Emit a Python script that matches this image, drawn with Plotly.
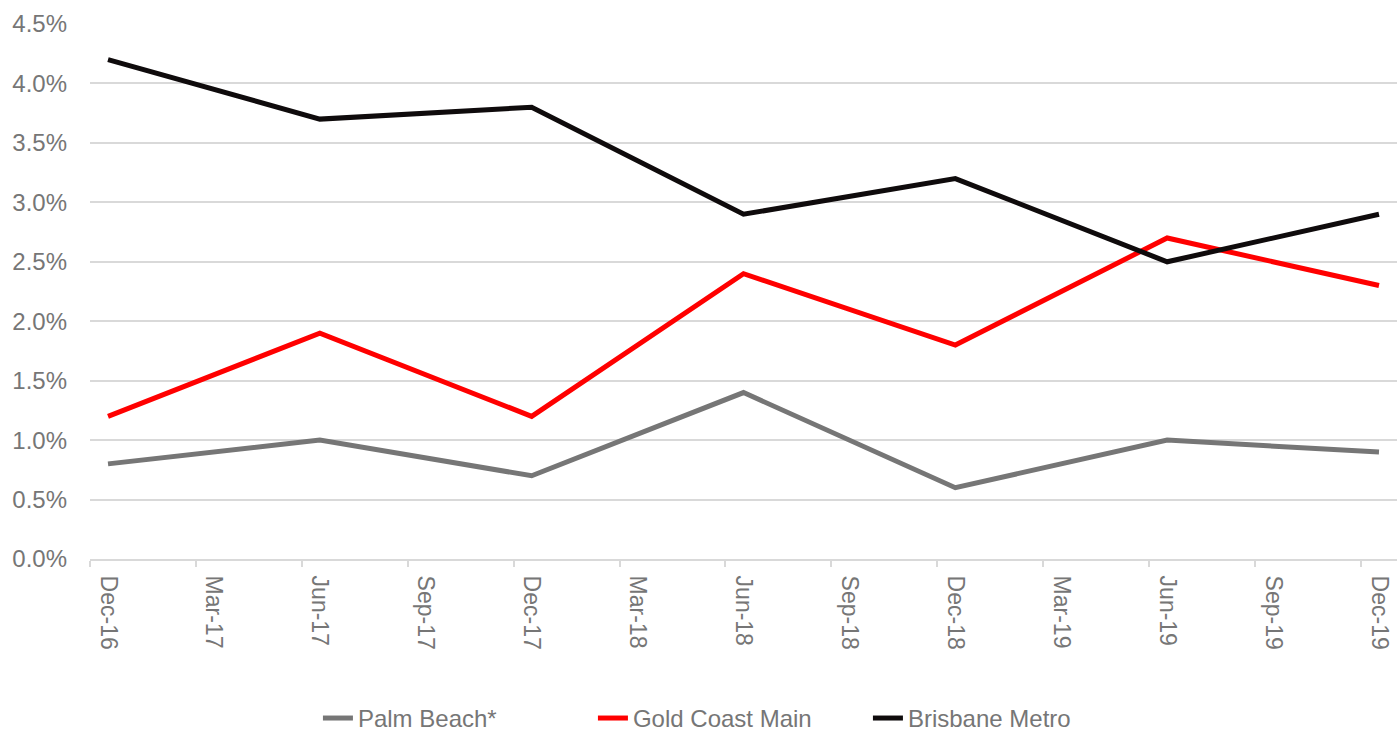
import plotly.graph_objects as go

quarters = ["Dec-16", "Mar-17", "Jun-17", "Sep-17", "Dec-17", "Mar-18", "Jun-18",
            "Sep-18", "Dec-18", "Mar-19", "Jun-19", "Sep-19", "Dec-19"]
periods = ["Dec-16", "Jun-17", "Dec-17", "Jun-18", "Dec-18", "Jun-19", "Dec-19"]

palm_beach = [0.8, 1.0, 0.7, 1.4, 0.6, 1.0, 0.9]
gold_coast = [1.2, 1.9, 1.2, 2.4, 1.8, 2.7, 2.3]
brisbane = [4.2, 3.7, 3.8, 2.9, 3.2, 2.5, 2.9]

y_ticks = [0.0, 0.5, 1.0, 1.5, 2.0, 2.5, 3.0, 3.5, 4.0, 4.5]

series = [
    ("Palm Beach*", palm_beach, "#767676"),
    ("Gold Coast Main", gold_coast, "#ff0000"),
    ("Brisbane Metro", brisbane, "#0f0b0c"),
]

xpos = [quarters.index(p) for p in periods]

fig = go.Figure()
for name, vals, color in series:
    fig.add_trace(go.Scatter(
        x=xpos, y=vals, name=name, mode="lines",
        line=dict(color=color, width=5),
    ))

font_color = "#767676"
fig.update_layout(
    width=1397, height=738,
    margin=dict(l=90, r=0, t=24, b=179, autoexpand=False),
    paper_bgcolor="white", plot_bgcolor="white",
    font=dict(family="Liberation Sans, Arial, sans-serif", size=24, color=font_color),
    showlegend=True,
    legend=dict(orientation="h", x=0.49, xanchor="center", y=-0.298, yanchor="middle",
                font=dict(size=24, color=font_color), itemwidth=30,
                entrywidth=230, entrywidthmode="pixels",
                tracegroupgap=0),
    xaxis=dict(
        range=[-0.17, 12.17],
        tickmode="array",
        tickvals=list(range(len(quarters))),
        ticktext=quarters,
        tickangle=90,
        tickfont=dict(size=23),
        ticks="",
        showgrid=False,
        zeroline=False,
        automargin=False,
        showline=True, linecolor="#d9d9d9", linewidth=2,
        ticklabelstandoff=10,
        ticklabeloverflow="allow",
        minor=dict(tick0=-0.17, dtick=1, ticks="outside", ticklen=6,
                   tickcolor="#d9d9d9", tickwidth=1.5, showgrid=False),
    ),
    yaxis=dict(
        range=[0, 4.5],
        tickmode="array",
        tickvals=y_ticks,
        ticktext=[f"{v:.1f}%" for v in y_ticks],
        showgrid=True, gridcolor="#d9d9d9", gridwidth=1.5,
        zeroline=False,
        automargin=False,
        showline=False,
        ticks="",
        ticklabelstandoff=22,
    ),
)

fig.write_html("out.html")
